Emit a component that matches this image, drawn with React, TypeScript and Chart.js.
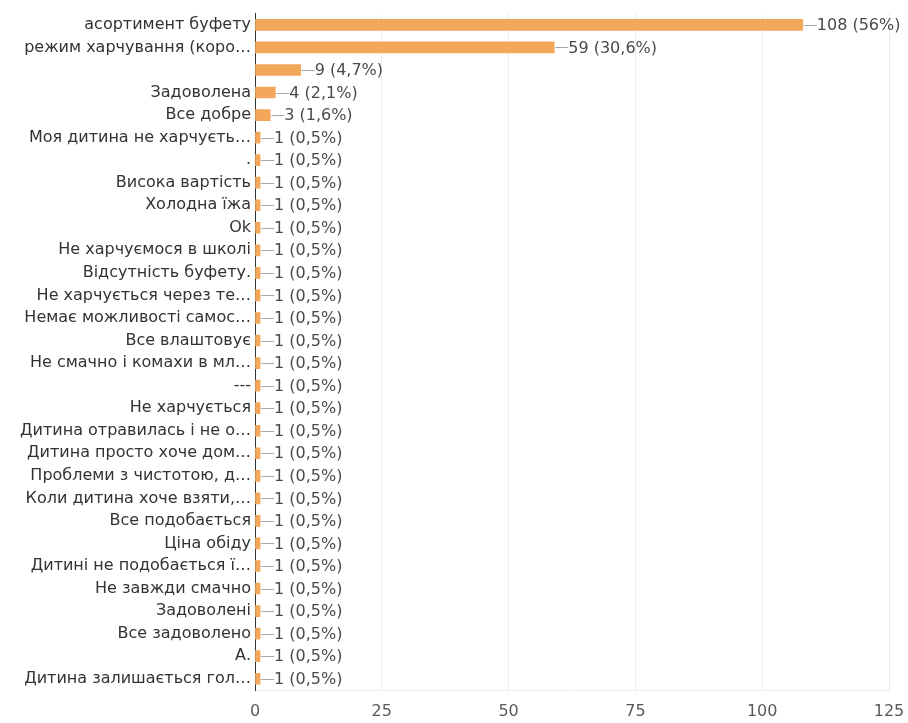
import React, { useEffect, useRef } from "react";
import { Chart, registerables } from "chart.js";

Chart.register(...registerables);

const categories: string[] = [
  "асортимент буфету",
  "режим харчування (коро…",
  "",
  "Задоволена",
  "Все добре",
  "Моя дитина не харчуєть…",
  ".",
  "Висока вартість",
  "Холодна їжа",
  "Ok",
  "Не харчуємося в школі",
  "Відсутність буфету.",
  "Не харчується через те…",
  "Немає можливості самос…",
  "Все влаштовує",
  "Не смачно і комахи в мл…",
  "---",
  "Не харчується",
  "Дитина отравилась і не о…",
  "Дитина просто хоче дом…",
  "Проблеми з чистотою, д…",
  "Коли дитина хоче взяти,…",
  "Все подобається",
  "Ціна обіду",
  "Дитині не подобається ї…",
  "Не завжди смачно",
  "Задоволені",
  "Все задоволено",
  "А.",
  "Дитина залишається гол…",
];

const counts: number[] = [
  108, 59, 9, 4, 3, 1, 1, 1, 1, 1, 1, 1, 1, 1, 1, 1, 1, 1, 1, 1, 1, 1, 1, 1, 1, 1, 1, 1, 1, 1,
];

const percents: string[] = [
  "56%", "30,6%", "4,7%", "2,1%", "1,6%",
  "0,5%", "0,5%", "0,5%", "0,5%", "0,5%",
  "0,5%", "0,5%", "0,5%", "0,5%", "0,5%",
  "0,5%", "0,5%", "0,5%", "0,5%", "0,5%",
  "0,5%", "0,5%", "0,5%", "0,5%", "0,5%",
  "0,5%", "0,5%", "0,5%", "0,5%", "0,5%",
];

const xTicks: number[] = [0, 25, 50, 75, 100, 125];

const FONT = "'DejaVu Sans', sans-serif";
const FSIZE = 16;

const valueLabelPlugin = {
  id: "valueLabels",
  afterDatasetsDraw(chart: any) {
    const ctx = chart.ctx;
    const meta = chart.getDatasetMeta(0);
    ctx.save();
    ctx.font = `${FSIZE}px ${FONT}`;
    ctx.textBaseline = "middle";
    ctx.textAlign = "left";
    meta.data.forEach((bar: any, i: number) => {
      const x = bar.x;
      const y = bar.y;
      ctx.strokeStyle = "#aaaaaa";
      ctx.lineWidth = 1;
      ctx.beginPath();
      ctx.moveTo(x + 1, Math.round(y) + 0.5);
      ctx.lineTo(x + 14, Math.round(y) + 0.5);
      ctx.stroke();
      ctx.fillStyle = "#4a4a4a";
      ctx.fillText(`${counts[i]} (${percents[i]})`, x + 14, y + 1);
    });
    ctx.restore();
  },
};

export default function App() {
  const ref = useRef<HTMLCanvasElement | null>(null);

  useEffect(() => {
    document.body.style.margin = "0";
    const canvas = ref.current;
    if (!canvas) return;
    const chart = new Chart(canvas, {
      type: "bar",
      data: {
        labels: categories,
        datasets: [
          {
            data: counts,
            backgroundColor: "#f3a75b",
            borderWidth: 0,
            barThickness: 11,
          },
        ],
      },
      options: {
        indexAxis: "y",
        animation: false,
        responsive: false,
        maintainAspectRatio: false,
        layout: { padding: { left: 0, right: 19, top: 11, bottom: 0 } },
        plugins: {
          legend: { display: false },
          tooltip: { enabled: false },
        },
        scales: {
          x: {
            min: 0,
            max: 125,
            afterBuildTicks(scale: any) {
              scale.ticks = xTicks.map((v) => ({ value: v }));
            },
            afterFit(scale: any) {
              scale.height = 33;
              scale.paddingRight = 0;
              scale.paddingLeft = 0;
            },
            grid: { color: "#ececec", drawTicks: false },
            border: { color: "#ececec" },
            ticks: {
              padding: 12,
              color: "#5a5a5a",
              font: { size: FSIZE, family: FONT },
            },
          },
          y: {
            afterFit(scale: any) {
              scale.width = 255;
            },
            grid: { display: false, drawTicks: false },
            border: { color: "#333333", width: 1 },
            ticks: {
              padding: 4,
              autoSkip: false,
              color: "#333333",
              font: { size: FSIZE, family: FONT },
            },
          },
        },
      },
      plugins: [valueLabelPlugin],
    });
    return () => chart.destroy();
  }, []);

  return (
    <div style={{ width: 908, height: 723, background: "#ffffff" }}>
      <canvas ref={ref} width={908} height={723} style={{ display: "block" }} />
    </div>
  );
}
